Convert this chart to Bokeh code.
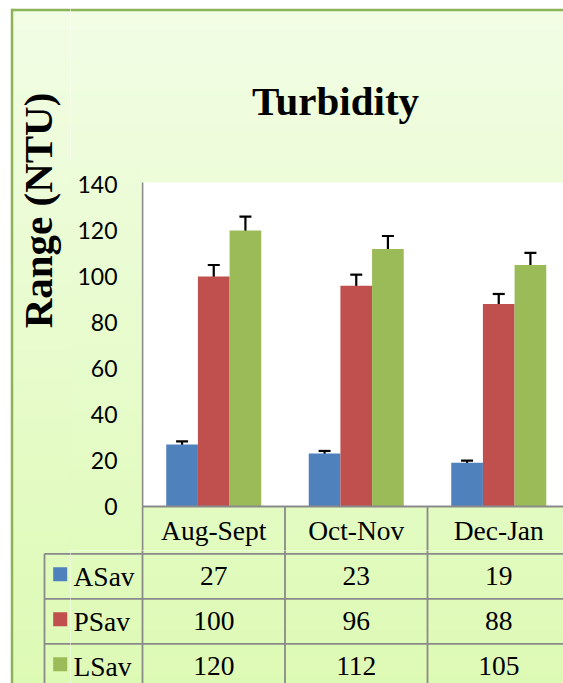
import math
import numpy as np
from bokeh.plotting import figure
from bokeh.layouts import row, column
from bokeh.models import Range1d, FixedTicker, Whisker, TeeHead, ColumnDataSource
from bokeh.core.properties import value
from bokeh.embed import file_html
from bokeh.resources import INLINE

# ---------------- data ----------------
categories = ["Aug-Sept", "Oct-Nov", "Dec-Jan"]
series_names = ["ASav", "PSav", "LSav"]
asav = [27, 23, 19]
psav = [100, 96, 88]
lsav = [120, 112, 105]
asav_err = [1.35, 1.15, 0.95]
psav_err = [5.0, 4.8, 4.4]
lsav_err = [6.0, 5.6, 5.25]
y_ticks = [0, 20, 40, 60, 80, 100, 120, 140]
title_text = "Turbidity"
y_title = "Range (NTU)"

# ---------------- styles / layout (page pixels) ----------------
colors = ["#4F81BD", "#C0504D", "#9BBB59"]
GRID = "#8a8a8a"
GRID_W = 1.8
BORDER = "#8DB356"
SERIF = "Liberation Serif"

PAGE_W, PAGE_H = 563, 683
SPLIT_X = 70          # left strip | right column
SPLIT_Y1 = 160        # title strip | chart
SPLIT_Y2 = 550        # chart (+ table header) | table body
PLOT_L = 142          # plot area left edge
PLOT_T = 182          # plot area top edge
CAT_PX = 142.5        # width of one category
ZERO_PX = 506         # pixel row of value 0
PX_PER_UNIT = 2.3
ROW_EDGES = [506, 553.3, 598.3, 643.3, 688.3]
LEG_L = 44
BORDER_X, BORDER_Y = 11.5, 9.5

TOP_C = (242, 253, 229)
BOT_C = (221, 250, 180)


def dx(sx):
    return (sx - PLOT_L) / CAT_PX


def dy(sy):
    return (ZERO_PX - sy) / PX_PER_UNIT


def grad(sy):
    t = min(max((sy - BORDER_Y) / (690 - BORDER_Y), 0), 1)
    c = tuple(int(round(a + (b - a) * t)) for a, b in zip(TOP_C, BOT_C))
    return "#%02x%02x%02x" % c


def frame_fig(x0, x1, y0, y1, width, height, **kw):
    opts = dict(width=width, height=height, output_backend="svg", toolbar_location=None,
                x_range=Range1d(dx(x0), dx(x1)), y_range=Range1d(dy(y1), dy(y0)),
                x_axis_location=None, y_axis_location=None,
                min_border=0, outline_line_color=None,
                border_fill_color=grad((y0 + y1) / 2),
                background_fill_color=None, frame_align=False)
    opts.update(kw)
    f = figure(**opts)
    f.grid.visible = False
    return f


def paint_bg(f, x0, x1, y0, y1, step=5.0):
    tops, bots, cols = [], [], []
    s = max(y0 - 5, BORDER_Y)
    while s < y1 + 5:
        e = s + step
        tops.append(dy(s))
        bots.append(dy(e + 0.5))
        cols.append(grad((s + e) / 2))
        s = e
    left = BORDER_X if x0 <= BORDER_X else x0 - 5
    f.quad(left=dx(left), right=dx(x1 + 5), top=tops, bottom=bots,
           fill_color=cols, line_color=None, level="image")


row_centers = [(ROW_EDGES[i] + ROW_EDGES[i + 1]) / 2 for i in range(4)]
ncat = len(categories)
xc = np.arange(ncat) + 0.5

# ======== left strip: border, axis title, legend keys ========
L = frame_fig(0, SPLIT_X, 0, PAGE_H, SPLIT_X, PAGE_H, border_fill_color="white")
paint_bg(L, 0, SPLIT_X, 0, PAGE_H)
L.segment(x0=[dx(BORDER_X), dx(BORDER_X)], x1=[dx(BORDER_X), dx(SPLIT_X + 5)],
          y0=[dy(BORDER_Y - 1.2), dy(BORDER_Y)], y1=[dy(PAGE_H + 5), dy(BORDER_Y)],
          line_color=BORDER, line_width=2.5)
L.text(x=[dx(37)], y=[dy(210)], text=[y_title], angle=math.pi / 2, text_align="center",
       text_baseline="middle", text_font=value(SERIF), text_font_style="bold",
       text_font_size="41px", text_color="black")
L.segment(x0=[dx(LEG_L)] * 3, x1=[dx(SPLIT_X + 5)] * 3, y0=[dy(e) for e in ROW_EDGES[1:4]],
          y1=[dy(e) for e in ROW_EDGES[1:4]], line_color=GRID, line_width=GRID_W)
L.segment(x0=[dx(LEG_L)], x1=[dx(LEG_L)], y0=[dy(ROW_EDGES[1])], y1=[dy(PAGE_H + 5)],
          line_color=GRID, line_width=GRID_W)
key_c = [row_centers[i + 1] - 2 for i in range(len(series_names))]
L.quad(left=dx(52.7), right=dx(66.7), top=[dy(c - 7) for c in key_c],
       bottom=[dy(c + 7) for c in key_c], fill_color=colors, line_color=None)

# ======== title strip ========
RW = PAGE_W - SPLIT_X
U = frame_fig(SPLIT_X, PAGE_W, 0, SPLIT_Y1, RW, SPLIT_Y1, border_fill_color="white")
paint_bg(U, SPLIT_X, PAGE_W, 0, SPLIT_Y1)
U.segment(x0=[dx(SPLIT_X - 5)], x1=[dx(PAGE_W + 5)], y0=[dy(BORDER_Y)], y1=[dy(BORDER_Y)],
          line_color=BORDER, line_width=2.5)
U.text(x=[dx(335)], y=[dy(100)], text=[title_text], text_align="center",
       text_baseline="middle", text_font=value(SERIF), text_font_style="bold",
       text_font_size="41px", text_color="black")

# ======== chart with y axis (and table header row) ========
T_FRAME_L = 141
T = frame_fig(T_FRAME_L, PAGE_W, SPLIT_Y1, SPLIT_Y2, RW, SPLIT_Y2 - SPLIT_Y1,
              y_axis_location="left", min_border_left=T_FRAME_L - SPLIT_X,
              border_fill_color=None,
              styles={"background": "linear-gradient(to bottom, %s, %s)"
                      % (grad(SPLIT_Y1), grad(SPLIT_Y2))})
paint_bg(T, T_FRAME_L, PAGE_W, SPLIT_Y1, SPLIT_Y2)
T.quad(left=dx(T_FRAME_L - 5), right=dx(PAGE_W + 5), top=dy(PLOT_T), bottom=0,
       fill_color="white", line_color=None, level="image")

bw = 1 / 4.5
offsets = [-bw, 0.0, bw]
for vals, errs, col, off in zip([asav, psav, lsav], [asav_err, psav_err, lsav_err], colors, offsets):
    v = np.array(vals, dtype=float)
    e = np.array(errs, dtype=float)
    src = ColumnDataSource(dict(x=xc + off, top=v, upper=v + e, lower=v - e))
    T.vbar(x="x", top="top", bottom=0, width=bw, source=src, fill_color=col, line_color=None)
    T.add_layout(Whisker(source=src, base="x", upper="upper", lower="lower",
                         line_color="black", line_width=2.2,
                         upper_head=TeeHead(size=12, line_width=2.2, line_color="black"),
                         lower_head=TeeHead(size=12, line_width=2.2, line_color="black")))

# plot-area left edge / table top line / column dividers
T.segment(x0=[0], x1=[0], y0=[dy(PLOT_T)], y1=[dy(SPLIT_Y2 + 5)], line_color=GRID, line_width=GRID_W)
T.segment(x0=[0], x1=[ncat + 1], y0=[0], y1=[0], line_color=GRID, line_width=GRID_W)
vx = list(np.arange(1, ncat + 1))
T.segment(x0=vx, x1=vx, y0=[0] * len(vx), y1=[dy(SPLIT_Y2 + 5)] * len(vx),
          line_color=GRID, line_width=GRID_W)
T.text(x=xc, y=[dy(row_centers[0])] * ncat, text=categories, text_align="center",
       text_baseline="middle", text_font=value(SERIF), text_font_size="27.5px",
       text_color="black")

T.yaxis.ticker = FixedTicker(ticks=y_ticks)
T.yaxis.major_label_text_font = "Lato"
T.yaxis.major_label_text_font_size = "23px"
T.yaxis.major_label_text_color = "black"
T.yaxis.major_tick_line_color = None
T.yaxis.minor_tick_line_color = None
T.yaxis.major_tick_out = 0
T.yaxis.minor_tick_out = 0
T.yaxis.axis_line_color = None
T.yaxis.major_label_standoff = 24

# ======== data table body ========
B = frame_fig(SPLIT_X, PAGE_W, SPLIT_Y2, PAGE_H, RW, PAGE_H - SPLIT_Y2)
paint_bg(B, SPLIT_X, PAGE_W, SPLIT_Y2, PAGE_H)
hy = [dy(e) for e in ROW_EDGES[1:4]]
B.segment(x0=[dx(SPLIT_X - 5)] * 3, x1=[ncat + 1] * 3, y0=hy, y1=hy,
          line_color=GRID, line_width=GRID_W)
vx0 = list(np.arange(0, ncat + 1))
B.segment(x0=vx0, x1=vx0, y0=[dy(SPLIT_Y2 - 5)] * len(vx0), y1=[dy(PAGE_H + 5)] * len(vx0),
          line_color=GRID, line_width=GRID_W)
for i, vals in enumerate([asav, psav, lsav]):
    B.text(x=xc, y=[dy(row_centers[i + 1])] * ncat, text=[str(v) for v in vals],
           text_align="center", text_baseline="middle", text_font=value(SERIF),
           text_font_size="27.5px", text_color="black")
B.text(x=[dx(73)] * len(series_names), y=[dy(c) for c in row_centers[1:]], text=series_names,
       text_align="left", text_baseline="middle", text_font=value(SERIF),
       text_font_size="27.5px", text_color="black")

layout = row(L, column(U, T, B))
open("out.html", "w").write(file_html(layout, INLINE))
